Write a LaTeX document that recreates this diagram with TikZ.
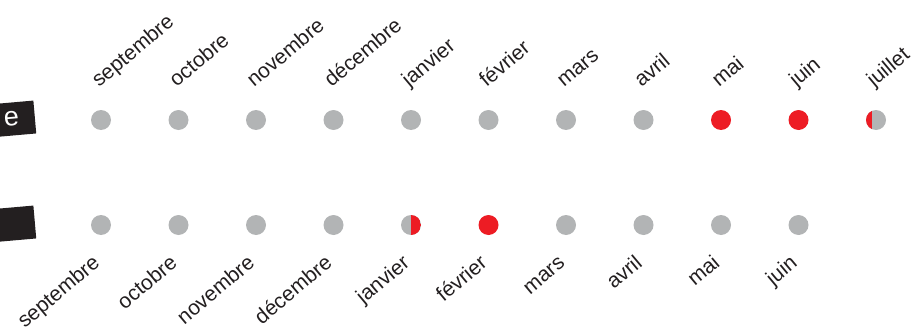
\documentclass[tikz,border=0pt]{standalone}
\usepackage{fontspec}
\setmainfont{Liberation Sans}
\definecolor{dotgray}{HTML}{B2B4B5}
\definecolor{dotred}{HTML}{ED1C24}
\definecolor{ink}{HTML}{231F20}
\tikzset{
  dot/.style={circle,fill=dotgray,minimum size=20pt,inner sep=0pt},
  red dot/.style={dot,fill=dotred},
  half dot/.style={dot,path picture={\fill[dotred] (path picture bounding box.north) rectangle (path picture bounding box.south east);}},
  sliver dot/.style={dot,path picture={\fill[dotred] (path picture bounding box.south west) rectangle ([xshift=6pt]path picture bounding box.north west);}},
  top month/.style={rotate=40,anchor=base west,inner sep=0pt,text=ink,font=\fontsize{21}{24}\selectfont},
  bottom month/.style={rotate=40,anchor=base east,inner sep=0pt,text=ink,font=\fontsize{21}{24}\selectfont},
  tag/.style={fill=ink,text=white,rotate=5,anchor=east,minimum height=33pt,text width=100pt,align=right,inner xsep=16pt,font=\fontsize{27}{28}\selectfont}
}

\begin{document}
\begin{tikzpicture}[x=1pt,y=-1pt,node distance=77.5pt]
  \useasboundingbox (0,0) rectangle (913,329);

  % tags on the left
  \node[tag] (tag1) at (35,117) {e};
  \node[tag] (tag2) at (35,222) {};

  % top row
  \node[dot] (t1) at (101,120) {};
  \node[dot] (t2) [right of=t1] {};
  \node[dot] (t3) [right of=t2] {};
  \node[dot] (t4) [right of=t3] {};
  \node[dot] (t5) [right of=t4] {};
  \node[dot] (t6) [right of=t5] {};
  \node[dot] (t7) [right of=t6] {};
  \node[dot] (t8) [right of=t7] {};
  \node[red dot] (t9) [right of=t8] {};
  \node[red dot] (t10) [right of=t9] {};
  \node[sliver dot] (t11) [right of=t10] {};

  \node[top month] at ([xshift=-2pt,yshift=32pt]t1) {septembre};
  \node[top month] at ([xshift=-2pt,yshift=32pt]t2) {octobre};
  \node[top month] at ([xshift=-2pt,yshift=32pt]t3) {novembre};
  \node[top month] at ([xshift=-2pt,yshift=32pt]t4) {décembre};
  \node[top month] at ([xshift=-2pt,yshift=32pt]t5) {janvier};
  \node[top month] at ([xshift=-2pt,yshift=32pt]t6) {février};
  \node[top month] at ([xshift=-2pt,yshift=32pt]t7) {mars};
  \node[top month] at ([xshift=-2pt,yshift=32pt]t8) {avril};
  \node[top month] at ([xshift=-2pt,yshift=32pt]t9) {mai};
  \node[top month] at ([xshift=-2pt,yshift=32pt]t10) {juin};
  \node[top month] at ([xshift=-2pt,yshift=32pt]t11) {juillet};

  % bottom row
  \node[dot] (b1) at (101,225) {};
  \node[dot] (b2) [right of=b1] {};
  \node[dot] (b3) [right of=b2] {};
  \node[dot] (b4) [right of=b3] {};
  \node[half dot] (b5) [right of=b4] {};
  \node[red dot] (b6) [right of=b5] {};
  \node[dot] (b7) [right of=b6] {};
  \node[dot] (b8) [right of=b7] {};
  \node[dot] (b9) [right of=b8] {};
  \node[dot] (b10) [right of=b9] {};

  \node[bottom month] at ([yshift=-40pt]b1) {septembre};
  \node[bottom month] at ([yshift=-40pt]b2) {octobre};
  \node[bottom month] at ([yshift=-40pt]b3) {novembre};
  \node[bottom month] at ([yshift=-40pt]b4) {décembre};
  \node[bottom month] at ([yshift=-40pt]b5) {janvier};
  \node[bottom month] at ([yshift=-40pt]b6) {février};
  \node[bottom month] at ([yshift=-40pt]b7) {mars};
  \node[bottom month] at ([yshift=-40pt]b8) {avril};
  \node[bottom month] at ([yshift=-40pt]b9) {mai};
  \node[bottom month] at ([yshift=-40pt]b10) {juin};
\end{tikzpicture}
\end{document}
